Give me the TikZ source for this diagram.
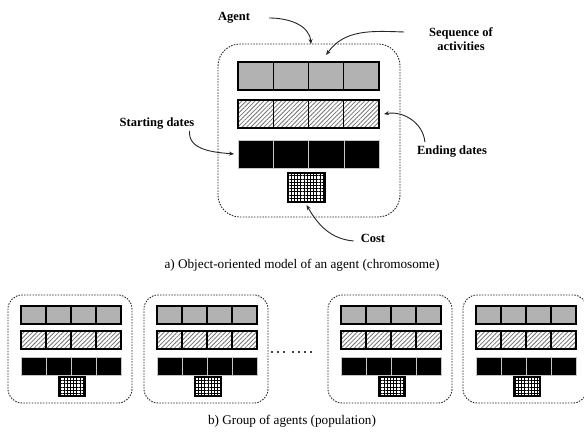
\documentclass[tikz,border=0pt]{standalone}
\usepackage{fontspec}
\setmainfont{Liberation Serif}
\usetikzlibrary{patterns.meta,arrows.meta}
\tikzset{
  agentframe/.style={draw=black!85, dash pattern=on 1.5pt off 1.3pt, line width=0.9pt, inner sep=0pt, outer sep=0pt},
  graycell/.style={draw=black, fill=gray!60, line width=1.2pt, inner sep=0pt, outer sep=0pt},
  hatchcell/.style={draw=black, line width=1.2pt, inner sep=0pt, outer sep=0pt,
     pattern={Lines[angle=45,distance=3.1pt,line width=0.8pt]}, pattern color=black!55},
  blackcell/.style={draw=gray!45, fill=black, line width=0.5pt, inner sep=0pt, outer sep=0pt},
  gridcell/.style={draw=black, line width=1.2pt, inner sep=0pt, outer sep=0pt,
     pattern={Hatch[angle=0,distance=3.2pt,line width=0.7pt]}, pattern color=black},
  lbl/.style={font=\bfseries\fontsize{12.5}{14}\selectfont, inner sep=0pt, align=center},
  caption/.style={font=\fontsize{13.2}{15}\selectfont, inner sep=0pt},
  pointer/.style={-{Stealth[length=5pt,width=4pt]}, line width=0.9pt, black!85},
  dotmark/.style={circle, fill=black, inner sep=0pt, minimum size=2.2pt}
}
\newcommand\bigdims{\def\Abw{182}\def\Abh{173}\def\Abx{20}\def\Acw{35.25}\def\Abarh{28}%
  \def\Ara{18}\def\Arb{56}\def\Arc{96}\def\Agx{70}\def\Agy{129}\def\Agw{37}\def\Agh{29}\def\Arad{22}}
\newcommand\smalldims{\def\Abw{124}\def\Abh{108}\def\Abx{13}\def\Acw{25}\def\Abarh{18}%
  \def\Ara{11}\def\Arb{36}\def\Arc{62}\def\Agx{51}\def\Agy{82}\def\Agw{26}\def\Agh{19}\def\Arad{14}}
\newcommand\agentdraw[3]{%
  \node[agentframe, minimum width=\Abw pt, minimum height=\Abh pt, rounded corners=\Arad pt]
     (#1) at ({#2+\Abw/2},{-(#3+\Abh/2)}) {};
  \foreach \i in {0,...,3}{
    \node[graycell, minimum width=\Acw pt, minimum height=\Abarh pt]
       (#1-s\i) at ({#2+\Abx+(\i+0.5)*\Acw},{-(#3+\Ara+\Abarh/2)}) {};
    \node[hatchcell, minimum width=\Acw pt, minimum height=\Abarh pt]
       (#1-e\i) at ({#2+\Abx+(\i+0.5)*\Acw},{-(#3+\Arb+\Abarh/2)}) {};
    \node[blackcell, minimum width=\Acw pt, minimum height=\Abarh pt]
       (#1-d\i) at ({#2+\Abx+(\i+0.5)*\Acw},{-(#3+\Arc+\Abarh/2)}) {};
  }
  \node[gridcell, minimum width=\Agw pt, minimum height=\Agh pt]
     (#1-c) at ({#2+\Agx+\Agw/2},{-(#3+\Agy+\Agh/2)}) {};
}
\begin{document}
\begin{tikzpicture}[x=1pt,y=1pt]
\useasboundingbox[fill=white] (0,0) rectangle (584,-435);
% top agent
\bigdims
\agentdraw{A}{218}{44}
% labels
\node[lbl] (lagent) at (234,-18) {Agent};
\node[lbl] (lseq) at (461,-39) {Sequence of\\activities};
\node[lbl] (lstart) at (157,-124) {Starting dates};
\node[lbl] (lend) at (452,-152) {Ending dates};
\node[lbl] (lcost) at (373,-238) {Cost};
% arrows
\draw[pointer] ([xshift=19pt]lagent.east) to[out=0,in=95] ([xshift=2pt]A.north);
\draw[pointer] ([xshift=-25pt,yshift=7pt]lseq.west) to[out=178,in=55] ([yshift=7pt]A-s2.north);
\draw[pointer] ([xshift=-5pt,yshift=-1pt]lstart.south east) to[out=-95,in=175] ([xshift=-4pt]A-d0.west);
\draw[pointer] ([xshift=8pt,yshift=4pt]lend.north west) to[out=95,in=10] ([xshift=5pt]A-e3.east);
\draw[pointer] ([xshift=-7pt,yshift=-3pt]lcost.west) to[out=175,in=-60] ([yshift=-3pt]A-c.south);
\node[caption] (capa) at (302,-265) {a) Object-oriented model of an agent (chromosome)};
% bottom agents
\smalldims
\agentdraw{B1}{8}{295}
\agentdraw{B2}{144}{295}
\agentdraw{B3}{328}{295}
\agentdraw{B4}{463}{295}
\foreach \xx/\nm in {272/p1,278/p2,284/p3,293/p4,299/p5,305/p6,311/p7}{
  \node[dotmark] (\nm) at (\xx,-352) {};
}
\node[caption] (capb) at (292,-421) {b) Group of agents (population)};
\end{tikzpicture}
\end{document}
